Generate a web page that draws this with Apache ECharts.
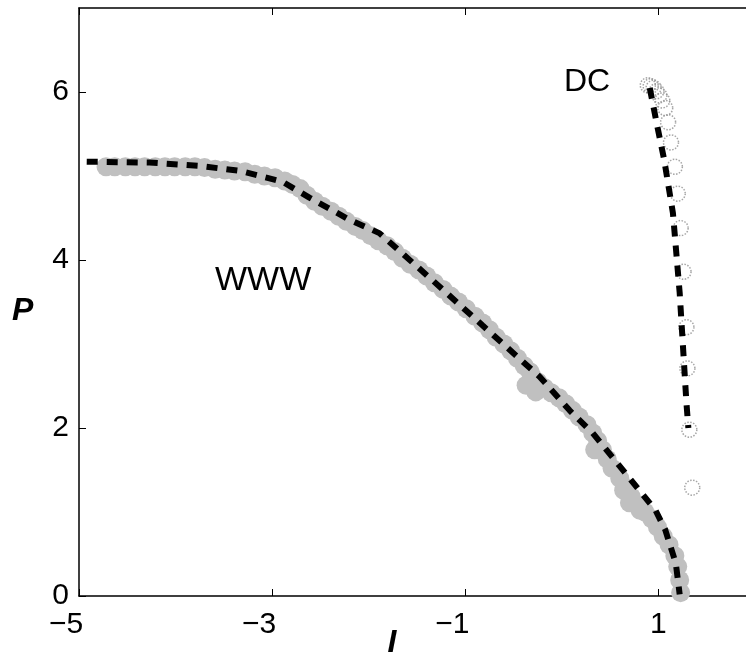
<!DOCTYPE html>
<html>
<head>
<meta charset="utf-8">
<script src="https://cdn.jsdelivr.net/npm/echarts@6/dist/echarts.min.js"></script>
<style>
  html, body { margin: 0; padding: 0; background: #fff; overflow: hidden; }
  #chart { width: 770px; height: 658px; }
</style>
</head>
<body>
<div id="chart"></div>
<script>
// Axis ticks
const xTicks = [-5, -3, -1, 1];
const yTicks = [0, 2, 4, 6];

// WWW: measured points (I, P)
const wwwI = [-4.72, -4.63, -4.52, -4.42, -4.32, -4.21, -4.11, -4.01, -3.90, -3.80,
  -3.70, -3.59, -3.49, -3.39, -3.28, -3.18, -3.08, -2.97, -2.87, -2.79,
  -2.71, -2.64, -2.56, -2.48, -2.39, -2.31, -2.23, -2.14, -2.06, -1.98,
  -1.90, -1.81, -1.73, -1.65, -1.57, -1.48, -1.40, -1.32, -1.23, -1.15,
  -1.07, -0.99, -0.90, -0.82, -0.75, -0.68, -0.60, -0.53, -0.46, -0.39,
  -0.31, -0.25, -0.18, -0.11, -0.03, 0.04, 0.11, 0.18, 0.26, 0.32,
  0.37, 0.42, 0.47, 0.52, 0.60, 0.66, 0.72, 0.78, 0.86, 0.93,
  0.99, 1.05, 1.11, 1.17, 1.20, 1.22, 1.23,
  -0.33, -0.37, -0.27, 0.34, 0.64, 0.70, 0.81];
const wwwP = [5.11, 5.11, 5.11, 5.11, 5.11, 5.11, 5.11, 5.11, 5.11, 5.11,
  5.10, 5.08, 5.07, 5.06, 5.05, 5.02, 5.00, 4.98, 4.94, 4.90,
  4.85, 4.77, 4.70, 4.64, 4.58, 4.52, 4.46, 4.40, 4.35, 4.29,
  4.23, 4.17, 4.10, 4.02, 3.95, 3.88, 3.81, 3.73, 3.65, 3.57,
  3.50, 3.42, 3.33, 3.25, 3.17, 3.08, 3.00, 2.92, 2.83, 2.74,
  2.62, 2.55, 2.48, 2.42, 2.36, 2.29, 2.21, 2.13, 2.04, 1.94,
  1.85, 1.74, 1.63, 1.52, 1.40, 1.29, 1.18, 1.08, 1.00, 0.92,
  0.82, 0.71, 0.61, 0.48, 0.35, 0.19, 0.04,
  2.67, 2.51, 2.43, 1.74, 1.26, 1.11, 1.02];

// WWW: fitted curve
const wwwFitI = [-4.92, -4.27, -3.75, -3.33, -2.89, -2.61, -2.20, -1.89, -1.37, -0.82, -0.23, 0.08, 0.32, 0.66, 0.97, 1.07, 1.18, 1.22];
const wwwFitP = [5.17, 5.16, 5.12, 5.06, 4.93, 4.74, 4.48, 4.32, 3.79, 3.22, 2.61, 2.21, 1.94, 1.46, 1.02, 0.79, 0.39, 0.02];

// DC: measured points (I, P)
const dcI = [0.89, 0.92, 0.95, 0.98, 1.01, 1.04, 1.07, 1.10, 1.13, 1.17, 1.20, 1.23, 1.26, 1.29, 1.30, 1.32, 1.35];
const dcP = [6.08, 6.07, 6.05, 6.01, 5.96, 5.90, 5.81, 5.64, 5.40, 5.11, 4.79, 4.38, 3.86, 3.20, 2.71, 1.98, 1.29];

// DC: fitted curve
const dcFitI = [0.91, 0.98, 1.06, 1.15, 1.22, 1.29, 1.31];
const dcFitP = [6.05, 5.64, 5.19, 4.56, 3.61, 2.30, 2.00];

const pairs = (a, b) => a.map((v, i) => [v, b[i]]);
const FONT = '"Liberation Sans", Arial, Helvetica, sans-serif';

const chart = echarts.init(document.getElementById('chart'), null, { renderer: 'canvas' });

const axisLineStyle = { color: '#000', width: 1.5 };

chart.setOption({
  animation: false,
  backgroundColor: '#fff',
  grid: { left: 79, top: 8, width: 676, height: 588, containLabel: false, outerBoundsMode: 'none' },
  xAxis: [{
    type: 'value', min: -5, max: 2, position: 'bottom',
    splitLine: { show: false },
    axisLine: { onZero: false, lineStyle: axisLineStyle },
    axisTick: { inside: true, length: 7, lineStyle: { color: '#000', width: 1 }, customValues: xTicks },
    axisLabel: {
      customValues: xTicks, margin: 14, color: '#000',
      fontFamily: FONT, fontSize: 30,
      formatter: v => v < 0 ? '{n|\u2212' + Math.abs(v) + '}{s| }' : '{n|' + v + '}',
      rich: { n: { fontFamily: FONT, fontSize: 30, color: '#000' }, s: { width: 26, fontSize: 30 } }
    },
    name: 'I', nameLocation: 'middle', nameGap: 31, nameMoveOverlap: false,
    nameTextStyle: { fontFamily: FONT, fontSize: 32, fontWeight: 'bold', fontStyle: 'italic', color: '#000', padding: [0, 50, 0, 0] }
  }, {
    type: 'value', min: -5, max: 2, position: 'top',
    splitLine: { show: false },
    axisLine: { onZero: false, lineStyle: axisLineStyle },
    axisTick: { inside: true, length: 7, lineStyle: { color: '#000', width: 1 }, customValues: xTicks },
    axisLabel: { show: false }
  }],
  yAxis: [{
    type: 'value', min: 0, max: 7, position: 'left',
    splitLine: { show: false },
    axisLine: { onZero: false, lineStyle: axisLineStyle },
    axisTick: { inside: true, length: 7, lineStyle: { color: '#000', width: 1 }, customValues: yTicks },
    axisLabel: { customValues: yTicks, margin: 10, color: '#000', fontFamily: FONT, fontSize: 30 }
  }],
  graphic: [
    // y-axis title
    { type: 'text', left: 12, top: 295, style: { text: 'P', font: 'italic bold 32px ' + FONT, fill: '#000' } },
    { type: 'text', left: 215, top: 264, style: { text: 'WWW', font: '34px ' + FONT, fill: '#000' } },
    { type: 'text', left: 564, top: 66, style: { text: 'DC', font: '32px ' + FONT, fill: '#000' } }
  ],
  series: [
    {
      name: 'WWW', type: 'scatter', symbol: 'circle', symbolSize: 19, z: 2,
      data: pairs(wwwI, wwwP),
      itemStyle: { color: '#c0c0c0', opacity: 1 }
    },
    {
      name: 'DC', type: 'scatter', symbol: 'circle', symbolSize: 15, z: 2,
      data: pairs(dcI, dcP),
      itemStyle: { color: 'rgba(0,0,0,0)', borderColor: '#8f8f8f', borderWidth: 1.5, borderType: 'dotted' }
    },
    {
      name: 'WWW fit', type: 'line', symbol: 'none', z: 5,
      data: pairs(wwwFitI, wwwFitP),
      lineStyle: { color: '#000', width: 6, type: [11, 9] }
    },
    {
      name: 'DC fit', type: 'line', symbol: 'none', z: 5,
      data: pairs(dcFitI, dcFitP),
      lineStyle: { color: '#000', width: 6, type: [11, 9] }
    }
  ]
});
</script>
</body>
</html>
